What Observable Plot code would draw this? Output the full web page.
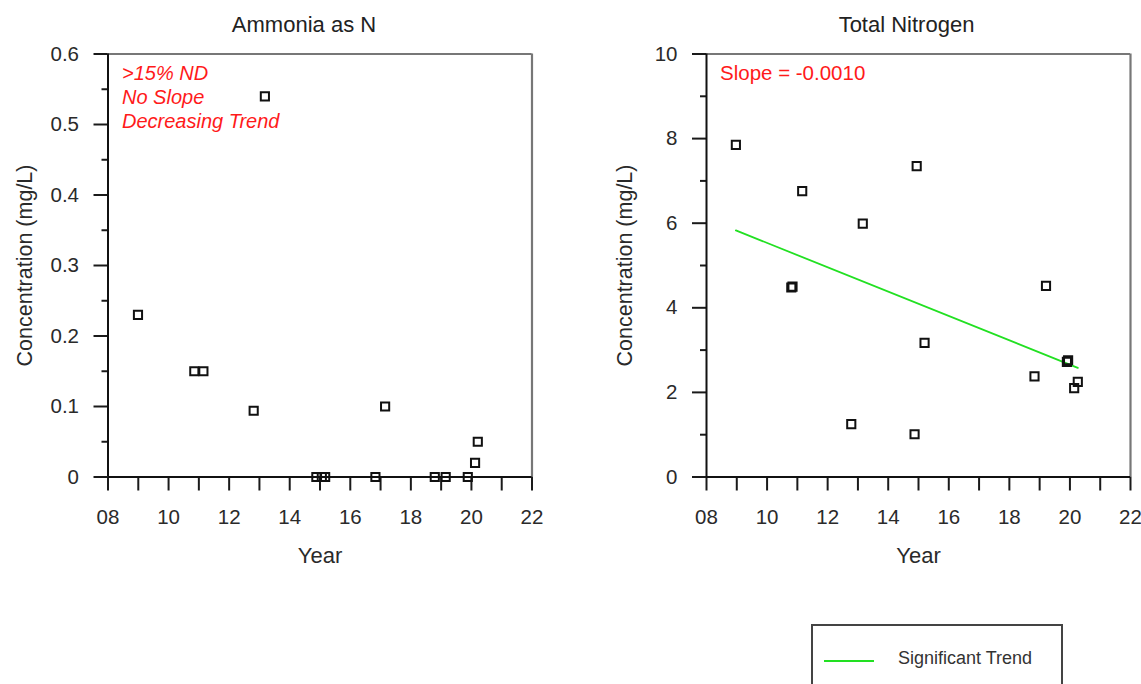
<!DOCTYPE html>
<html>
<head>
<meta charset="utf-8">
<script src="https://cdn.jsdelivr.net/npm/d3@7"></script>
<script src="https://cdn.jsdelivr.net/npm/@observablehq/plot@0.6"></script>
<style>
  html, body { margin: 0; padding: 0; background: #fff; overflow: hidden; }
  #page { position: relative; width: 1141px; height: 684px; font-family: "Liberation Sans", Arial, sans-serif; }
  .panel { position: absolute; top: 0; }
  #legend { position: absolute; left: 811px; top: 624px; width: 248px; height: 80px; border: 2px solid #444; }
  #legend .swatch { position: absolute; left: 11px; top: 34px; width: 50px; height: 0; border-top: 2px solid #22e022; }
  #legend .lbl { position: absolute; left: 85px; top: 21px; font-size: 18px; color: #333; line-height: 22px; white-space: nowrap; }
</style>
</head>
<body>
<div id="page">
  <div class="panel" id="left" style="left:0px"></div>
  <div class="panel" id="right" style="left:580px"></div>
  <div id="legend"><div class="swatch"></div><div class="lbl">Significant Trend</div></div>
</div>
<script>
// ---- Data ----
const ammoniaYear = [8.99, 10.85, 11.15, 12.81, 13.18, 14.88, 15.06, 15.17, 16.83, 17.15, 18.79, 19.15, 19.88, 20.12, 20.21];
const ammoniaConc = [0.23, 0.15, 0.15, 0.094, 0.54, 0, 0, 0, 0, 0.10, 0, 0, 0, 0.02, 0.05];

const tnYear = [8.97, 10.80, 10.84, 11.16, 12.78, 13.16, 14.87, 14.94, 15.2, 18.83, 19.21, 19.90, 19.94, 20.14, 20.26];
const tnConc = [7.85, 4.48, 4.50, 6.76, 1.25, 5.99, 1.01, 7.35, 3.17, 2.38, 4.52, 2.72, 2.76, 2.10, 2.25];

const trendYear = [8.97, 20.26];
const trendConc = [5.83, 2.58];

const xTicks = [8, 9, 10, 11, 12, 13, 14, 15, 16, 17, 18, 19, 20, 21, 22];
const ammoniaMajor = [0, 0.1, 0.2, 0.3, 0.4, 0.5, 0.6];
const ammoniaMinor = [0.05, 0.15, 0.25, 0.35, 0.45, 0.55];
const tnMajor = [0, 2, 4, 6, 8, 10];
const tnMinor = [1, 3, 5, 7, 9];

const titles = ["Ammonia as N", "Total Nitrogen"];
const yLabel = "Concentration (mg/L)";
const xLabel = "Year";
const ammoniaNote = ">15% ND\nNo Slope\nDecreasing Trend";
const tnNote = "Slope = -0.0010";

const FONT = "Liberation Sans, Arial, sans-serif";
const xFmt = d => (d % 2 === 0 ? String(d).padStart(2, "0") : "");
const yFmt = d => String(d);

function panel({years, conc, yMax, major, minor, title, titleDx, note, noteItalic, noteSize, noteDx, ylabDx, marginLeft, marginRight, trend}) {
  const pts = years.map((x, i) => ({x, y: conc[i]}));
  const marks = [
    Plot.ruleY([yMax], {stroke: "#777", strokeWidth: 2.2}),
    Plot.ruleX([22], {stroke: "#777", strokeWidth: 2.2}),
    Plot.axisY({ticks: major, tickSize: 14, tickPadding: 15, tickFormat: yFmt, fontSize: 20.5, label: null, stroke: "#1a1a1a", color: "#2a2a2a", strokeWidth: 2}),
    Plot.axisY({ticks: minor, tickSize: 6, tickFormat: () => "", label: null, stroke: "#1a1a1a", strokeWidth: 2}),
    Plot.axisX({ticks: xTicks, tickSize: 14, tickPadding: 18, tickFormat: xFmt, fontSize: 20.5, label: null, stroke: "#1a1a1a", color: "#2a2a2a", strokeWidth: 2}),
    Plot.ruleX([8], {stroke: "#111", strokeWidth: 2}),
    Plot.ruleY([0], {stroke: "#111", strokeWidth: 2}),
  ];
  if (trend) {
    marks.push(Plot.line(trend.years.map((x, i) => ({x, y: trend.conc[i]})), {x: "x", y: "y", stroke: "#22e022", strokeWidth: 1.8}));
  }
  marks.push(
    Plot.dot(pts, {x: "x", y: "y", symbol: "square", r: 4.6, stroke: "#111", strokeWidth: 2, fill: "none"}),
    Plot.text([title], {frameAnchor: "top", lineAnchor: "middle", dy: -29.5, dx: titleDx, text: d => d, fontSize: 22, fill: "#222"}),
    Plot.text([yLabel], {frameAnchor: "left", textAnchor: "middle", lineAnchor: "middle", dx: ylabDx, rotate: -90, text: d => d, fontSize: 21.5, fill: "#2a2a2a"}),
    Plot.text([xLabel], {frameAnchor: "bottom", lineAnchor: "middle", dy: 79, text: d => d, fontSize: 22, fill: "#2a2a2a"}),
    Plot.text([note], {frameAnchor: "top-left", dx: noteDx, dy: 8.5, lineAnchor: "top", lineHeight: 1.2, textAnchor: "start", text: d => d, fontSize: noteSize, fill: "#ff1a1a", fontStyle: noteItalic ? "italic" : "normal"})
  );
  const width = marginLeft + 424 + marginRight;
  return Plot.plot({
    width,
    height: 600,
    marginLeft,
    marginRight,
    marginTop: 53.5,
    marginBottom: 123.5,
    style: {fontFamily: FONT, fontSize: "20px", background: "transparent", color: "#222"},
    x: {domain: [8, 22], axis: null},
    y: {domain: [0, yMax], axis: null},
    marks
  });
}

document.getElementById("left").appendChild(panel({
  years: ammoniaYear, conc: ammoniaConc, yMax: 0.6, major: ammoniaMajor, minor: ammoniaMinor,
  title: titles[0], titleDx: -16, note: ammoniaNote, noteItalic: true, noteSize: 20, noteDx: 14, ylabDx: -82.5,
  marginLeft: 107.5, marginRight: 38.5
}));
document.getElementById("right").appendChild(panel({
  years: tnYear, conc: tnConc, yMax: 10, major: tnMajor, minor: tnMinor,
  title: titles[1], titleDx: -12, note: tnNote, noteItalic: false, noteSize: 20.5, noteDx: 13.5, ylabDx: -81,
  marginLeft: 126, marginRight: 11,
  trend: {years: trendYear, conc: trendConc}
}));
</script>
</body>
</html>
